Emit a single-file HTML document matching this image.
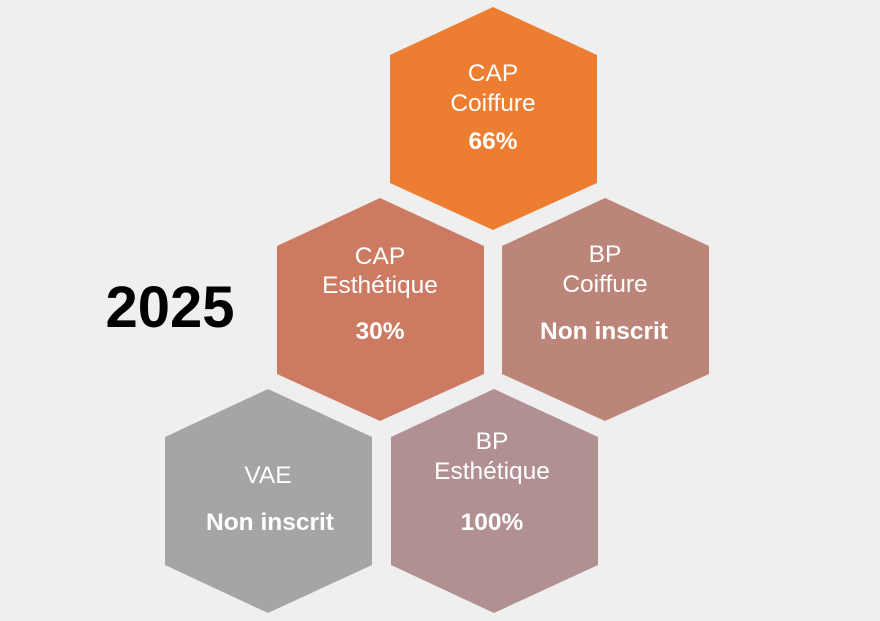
<!DOCTYPE html>
<html><head><meta charset="utf-8"><style>html,body{margin:0;padding:0;background:#efefef;}svg{display:block}</style></head>
<body>
<svg width="880" height="621" viewBox="0 0 880 621" xmlns="http://www.w3.org/2000/svg" font-family="Liberation Sans, Arial, sans-serif">
<rect width="880" height="621" fill="#efefef"/>
<polygon points="493,7 597,55 597,183 493,230 390,183 390,55" fill="#ED7D31"/>
<polygon points="380,198 484,246 484,374 380,421 277,374 277,246" fill="#CC7B62"/>
<polygon points="605,198 709,246 709,374 605,421 502,374 502,246" fill="#BC857A"/>
<polygon points="268,389 372,437 372,565 268,613 165,565 165,437" fill="#A5A5A5"/>
<polygon points="494,389 598,437 598,565 494,613 391,565 391,437" fill="#B09090"/>
<g fill="#fff" text-anchor="middle" font-size="24.5">
<text x="493" y="81">CAP</text>
<text x="493" y="111">Coiffure</text>
<text x="493" y="149" font-weight="bold">66%</text>
<text x="380" y="264">CAP</text>
<text x="380" y="293">Esthétique</text>
<text x="380" y="339" font-weight="bold">30%</text>
<text x="605" y="262">BP</text>
<text x="605" y="292">Coiffure</text>
<text x="604" y="339" font-weight="bold">Non inscrit</text>
<text x="268" y="483">VAE</text>
<text x="270" y="530" font-weight="bold">Non inscrit</text>
<text x="492" y="449">BP</text>
<text x="492" y="479">Esthétique</text>
<text x="492" y="530" font-weight="bold">100%</text>
</g>
<text x="170" y="327" text-anchor="middle" font-size="58" font-weight="bold" fill="#000">2025</text>
</svg>
</body></html>
